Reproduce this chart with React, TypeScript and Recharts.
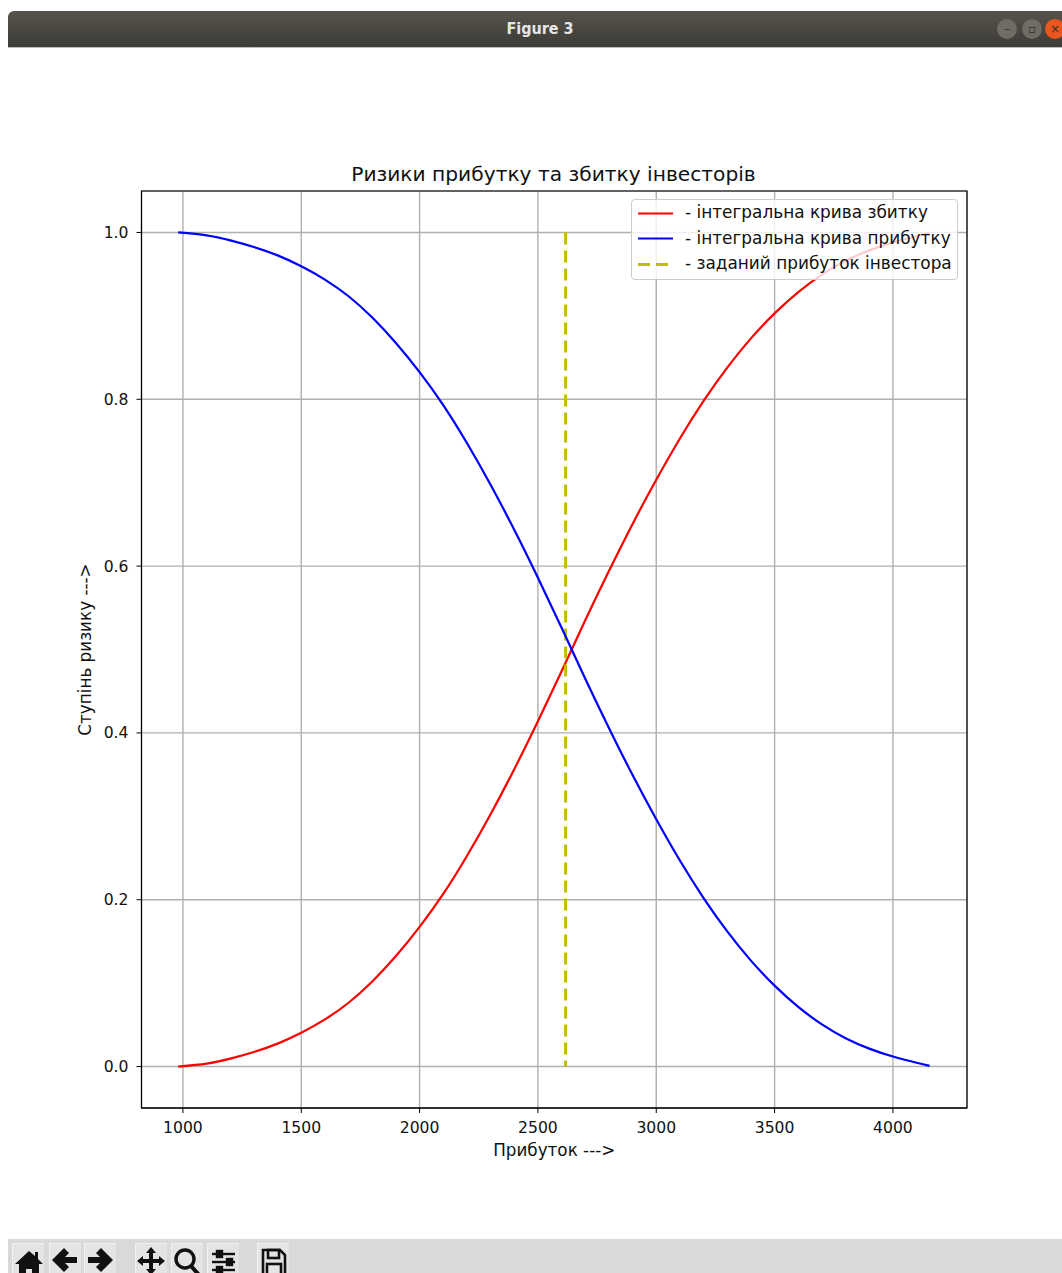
// App.tsx
import { LineChart, Line, XAxis, YAxis, CartesianGrid, Legend, ReferenceArea, Label } from "recharts";

// ==========================================
// DATA
// ==========================================
const profitValues = [
  980, 1100, 1200, 1300, 1400, 1500, 1600, 1700, 1800, 1900, 2000, 2100, 2200, 2300, 2400, 2500, 2600, 2700, 2800,
  2900, 3000, 3100, 3200, 3300, 3400, 3500, 3600, 3700, 3800, 3900, 4000, 4100, 4155,
];
const lossCurve = [
  0.0, 0.0035, 0.0095, 0.0175, 0.0275, 0.0405, 0.0565, 0.0765, 0.102, 0.1325, 0.1675, 0.207, 0.2525, 0.3025, 0.3565,
  0.414, 0.474, 0.535, 0.594, 0.6505, 0.7035, 0.753, 0.798, 0.838, 0.873, 0.903, 0.9285, 0.9495, 0.966, 0.9785, 0.988,
  0.9955, 0.9992,
];
const profitCurve = [
  1.0, 0.9965, 0.9905, 0.9825, 0.9725, 0.9595, 0.9435, 0.9235, 0.898, 0.8675, 0.8325, 0.793, 0.7475, 0.6975, 0.6435,
  0.586, 0.526, 0.465, 0.406, 0.3495, 0.2965, 0.247, 0.202, 0.162, 0.127, 0.097, 0.0715, 0.0505, 0.034, 0.0215, 0.012,
  0.0045, 0.0008,
];
const targetX = [2617, 2617];
const targetY = [1, 0];

const xTicks = [1000, 1500, 2000, 2500, 3000, 3500, 4000];
const yTicks = [0, 0.2, 0.4, 0.6, 0.8, 1];

const xDomain: [number, number] = [825, 4313];
const yDomain: [number, number] = [-0.0497, 1.0497];

const chartTitle = "Ризики прибутку та збитку інвесторів";
const xLabel = "Прибуток --->";
const yLabel = "Ступінь ризику --->";
const lossName = "- інтегральна крива збитку";
const profitName = "- інтегральна крива прибутку";
const targetName = "- заданий прибуток інвестора";
const legendOrder = [lossName, profitName, targetName];

const curveRows = profitValues.map((x, i) => ({ x, loss: lossCurve[i], profit: profitCurve[i] }));
const targetRows = targetX.map((x, i) => ({ x, target: targetY[i] }));

const FONT = "'DejaVu Sans', sans-serif";
const TARGET_COLOR = "#bfbf00";
const TARGET_DASH = "12 6";

// ==========================================
// LEGEND
// ==========================================
const ChartLegend = ({ payload }: any) => (
  <div
    style={{
      width: 327,
      height: 81,
      boxSizing: "border-box",
      background: "rgba(255,255,255,0.8)",
      border: "1px solid #ccc",
      borderRadius: 4,
      position: "relative",
      fontFamily: FONT,
      fontSize: 16.9,
      color: "#111",
    }}
  >
    {(payload || []).map((entry: any, i: number) => (
      <div key={entry.value} style={{ position: "absolute", left: 0, top: 0.5 + i * 25.5, height: 25, width: 327 }}>
        <svg width={50} height={25} style={{ position: "absolute", left: 0, top: 0 }}>
          <line
            x1={6}
            x2={41}
            y1={12.5}
            y2={12.5}
            stroke={entry.color}
            strokeWidth={entry.color === TARGET_COLOR ? 3 : 2.2}
            strokeDasharray={entry.color === TARGET_COLOR ? TARGET_DASH : undefined}
          />
        </svg>
        <span style={{ position: "absolute", left: 53, top: 2.5, whiteSpace: "nowrap", lineHeight: "18px" }}>
          {entry.value}
        </span>
      </div>
    ))}
  </div>
);

// rotated around the middle of the axis, the built-in "left" position anchors at the text end
const YAxisTitle = ({ viewBox }: any) => {
  const cy = viewBox.y + viewBox.height / 2;
  return (
    <text
      x={91}
      y={cy}
      transform={`rotate(-90 91 ${cy})`}
      textAnchor="middle"
      fill="#111"
      fontSize={16.8}
      fontFamily={FONT}
    >
      {yLabel}
    </text>
  );
};

// ==========================================
// WINDOW CHROME
// ==========================================
const WindowButton = ({ left, bg, glyph }: { left: number; bg: string; glyph: string }) => (
  <div
    style={{
      position: "absolute",
      left,
      top: 8,
      width: 20,
      height: 20,
      borderRadius: 10,
      background: bg,
      color: "#333",
      fontSize: 12,
      lineHeight: "20px",
      textAlign: "center",
      fontFamily: FONT,
    }}
  >
    {glyph}
  </div>
);

const toolButtons = [12, 49, 84, 135, 171, 207, 257];

const ToolIcon = ({ index }: { index: number }) => {
  const icons = [
    <path key="home" d="M17 6 L23 11 V7 H26 V14 L31 19 H27 V31 H20 V24 H14 V31 H7 V19 H3 Z" fill="#111" />,
    <path key="back" d="M15 3 L3 15 L15 27 L20 22 L16 18 H28 V12 H16 L20 8 Z" fill="#111" />,
    <path key="fwd" d="M17 3 L29 15 L17 27 L12 22 L16 18 H4 V12 H16 L12 8 Z" fill="#111" />,
    <path
      key="move"
      d="M16 2 L21 8 H18 V14 H24 V11 L30 16 L24 21 V18 H18 V24 H21 L16 30 L11 24 H14 V18 H8 V21 L2 16 L8 11 V14 H14 V8 H11 Z"
      fill="#111"
    />,
    <g key="zoom" fill="none" stroke="#111" strokeWidth={3.4}>
      <circle cx={14} cy={14} r={9} />
      <line x1={20} y1={21} x2={29} y2={31} strokeWidth={4} />
    </g>,
    <g key="sliders" stroke="#111" strokeWidth={2.4}>
      <line x1={5} x2={28} y1={9} y2={9} />
      <line x1={5} x2={28} y1={17} y2={17} />
      <line x1={5} x2={28} y1={25} y2={25} />
      <rect x={10} y={6} width={5} height={6} fill="#111" />
      <rect x={20} y={14} width={5} height={6} fill="#111" />
      <rect x={10} y={22} width={5} height={6} fill="#111" />
    </g>,
    <g key="save" fill="none" stroke="#111" strokeWidth={2.6}>
      <path d="M6 5 H23 L28 10 V30 H6 Z" />
      <rect x={11} y={5} width={11} height={8} />
      <rect x={10} y={19} width={14} height={11} />
    </g>,
  ];
  return (
    <svg width={33} height={34} style={{ display: "block" }}>
      {icons[index]}
    </svg>
  );
};

// ==========================================
// MAIN COMPONENT
// ==========================================
export default function App() {
  return (
    <div
      style={{
        position: "absolute",
        left: 0,
        top: 0,
        width: 1062,
        height: 1273,
        overflow: "hidden",
        background: "#fff",
        fontFamily: FONT,
      }}
    >
      {/* title bar */}
      <div
        style={{
          position: "absolute",
          left: 8,
          top: 11,
          width: 1054,
          height: 37,
          borderTopLeftRadius: 6,
          background: "linear-gradient(#57534c, #3c3b37)",
          borderBottom: "1px solid #bbb",
          boxSizing: "border-box",
        }}
      >
        <div
          style={{
            position: "absolute",
            left: 0,
            width: 1064,
            top: 8,
            textAlign: "center",
            color: "#e6e6e6",
            fontFamily: "'DejaVu Sans Condensed', 'Noto Sans', sans-serif",
            fontWeight: 700,
            fontSize: 16,
            lineHeight: "20px",
          }}
        >
          Figure 3
        </div>
        <WindowButton left={989} bg="#6e6c64" glyph="–" />
        <WindowButton left={1014} bg="#6e6c64" glyph="▫" />
        <WindowButton left={1037} bg="#e9571f" glyph="×" />
      </div>

      {/* figure title */}
      <div
        style={{
          position: "absolute",
          left: 141,
          width: 825,
          top: 162,
          textAlign: "center",
          fontSize: 20.2,
          lineHeight: "24px",
          color: "#111",
          whiteSpace: "nowrap",
        }}
      >
        {chartTitle}
      </div>

      <div style={{ position: "absolute", left: 0, top: 0 }}>
        <LineChart
          width={1062}
          height={1273}
          data={curveRows}
          margin={{ top: 191, left: 81.5, right: 95, bottom: 105 }}
          style={{ fontFamily: FONT }}
        >
          <CartesianGrid stroke="#b0b0b0" strokeWidth={1.4} />
          <XAxis
            dataKey="x"
            type="number"
            domain={xDomain}
            ticks={xTicks}
            allowDataOverflow
            height={60}
            stroke="#000"
            tick={{ fill: "#111", fontSize: 15.6 }}
            tickSize={5}
            tickMargin={9}
            interval={0}
            label={{ value: xLabel, position: "bottom", offset: -24, fill: "#111", fontSize: 16.8 }}
          />
          <YAxis
            type="number"
            domain={yDomain}
            ticks={yTicks}
            allowDataOverflow
            width={60}
            stroke="#000"
            tick={{ fill: "#111", fontSize: 15.6 }}
            tickSize={5}
            tickMargin={8}
            interval={0}
            tickFormatter={(v: number) => v.toFixed(1)}
          >
            <Label content={<YAxisTitle />} />
          </YAxis>
          <ReferenceArea
            x1={xDomain[0]}
            x2={xDomain[1]}
            y1={yDomain[0]}
            y2={yDomain[1]}
            fill="none"
            stroke="#000"
            strokeWidth={1.2}
            fillOpacity={0}
          />
          <Line
            dataKey="loss"
            name={lossName}
            stroke="#ff0000"
            strokeWidth={2.2}
            type="natural"
            dot={false}
            isAnimationActive={false}
          />
          <Line
            data={targetRows}
            dataKey="target"
            name={targetName}
            stroke={TARGET_COLOR}
            strokeWidth={3}
            strokeDasharray={TARGET_DASH}
            type="linear"
            dot={false}
            isAnimationActive={false}
          />
          <Line
            dataKey="profit"
            name={profitName}
            stroke="#0000ff"
            strokeWidth={2.2}
            type="natural"
            dot={false}
            isAnimationActive={false}
          />
          <Legend
            layout="horizontal"
            verticalAlign="middle"
            align="center"
            itemSorter={(item: any) => legendOrder.indexOf(item.value)}
            content={<ChartLegend />}
            wrapperStyle={{ position: "absolute", left: 631, top: 199, width: 327, height: 81 }}
          />
        </LineChart>
      </div>

      {/* toolbar */}
      <div style={{ position: "absolute", left: 8, top: 1239, width: 1054, height: 34, background: "#d9d9d9" }}>
        {toolButtons.map((left, i) => (
          <div
            key={left}
            style={{
              position: "absolute",
              left: left - 8,
              top: 4,
              width: 32,
              height: 34,
              background: "#e4e4e4",
              borderLeft: "1px solid #f2f2f2",
              borderTop: "1px solid #f2f2f2",
              boxSizing: "border-box",
            }}
          >
            <div style={{ marginTop: 1, marginLeft: -1 }}>
              <ToolIcon index={i} />
            </div>
          </div>
        ))}
      </div>
    </div>
  );
}
